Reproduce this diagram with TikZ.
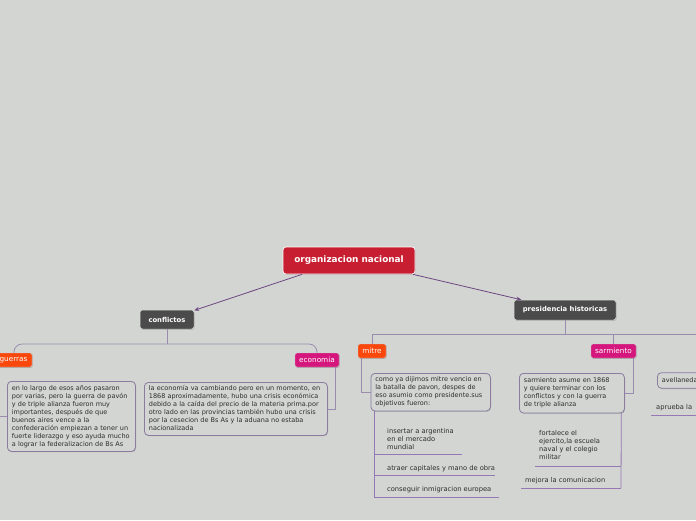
\documentclass[tikz,border=0pt]{standalone}
\usepackage{fontspec}
\setmainfont{DejaVu Sans}
\usetikzlibrary{shadows,arrows.meta}
\definecolor{bgc}{RGB}{211,213,210}
\definecolor{rootred}{RGB}{200,30,50}
\definecolor{darkbox}{RGB}{75,75,75}
\definecolor{orangebox}{RGB}{250,72,12}
\definecolor{magbox}{RGB}{213,22,125}
\definecolor{boxborder}{RGB}{140,125,160}
\definecolor{treeline}{RGB}{155,140,175}
\definecolor{arrowline}{RGB}{110,70,130}
\definecolor{subline}{RGB}{150,120,180}
\definecolor{txt}{RGB}{45,45,45}
\newcommand{\boxlines}[1]{\begin{tabular}{@{}l@{}}#1\end{tabular}}
\tikzset{
  shadowed/.style={drop shadow={shadow xshift=0.6pt,shadow yshift=-0.8pt,fill=black,opacity=0.18}},
  rootbox/.style={shadowed,rectangle,rounded corners=3pt,fill=rootred,draw=white,line width=0.7pt,
    text=white,font=\fontsize{8.9}{10}\selectfont\bfseries,minimum width=132,minimum height=27,inner sep=0},
  mainbox/.style={shadowed,rectangle,rounded corners=2.5pt,fill=darkbox,draw=white!75!gray,line width=0.5pt,
    text=white,font=\fontsize{6.8}{8}\selectfont\bfseries,inner sep=0},
  labelbox/.style={shadowed,rectangle,rounded corners=2pt,draw=white!60!gray,line width=0.4pt,
    text=white,font=\fontsize{7.3}{8}\selectfont,inner sep=0,minimum height=14},
  textbox/.style={shadowed,rectangle,rounded corners=4pt,fill=bgc,draw=boxborder,line width=0.8pt,
    text=txt,font=\fontsize{6.5}{8.0}\selectfont,align=left,inner xsep=4.5,inner ysep=0,anchor=north west},
  itemtext/.style={text=txt,font=\fontsize{6.7}{8.0}\selectfont,align=left,inner sep=0,anchor=north west},
  tree/.style={draw=treeline,line width=0.8pt},
  subl/.style={draw=subline,line width=0.8pt},
  arr/.style={draw=arrowline,line width=0.8pt,-{Stealth[length=5pt,width=4pt]}}
}
\begin{document}
\begin{tikzpicture}[x=1pt,y=-1pt]
\useasboundingbox (0,0) rectangle (696,520);
\clip (0,0) rectangle (696,520);
\fill[bgc] (0,0) rectangle (696,520);

% main nodes
\node[rootbox] (root) at (349,260.5) {organizacion nacional};
\node[mainbox,minimum width=54,minimum height=19] (conflictos) at (167,319.5) {conflictos};
\node[mainbox,minimum width=102,minimum height=20] (presidencia) at (565,310) {presidencia historicas};

% labels
\node[labelbox,fill=orangebox,minimum width=46] (guerras) at (9,360) {\hspace*{9pt}guerras};
\node[labelbox,fill=magbox,minimum width=44] (economia) at (317,360) {economia};
\node[labelbox,fill=orangebox,minimum width=28] (mitre) at (372,351) {mitre};
\node[labelbox,fill=magbox,minimum width=45] (sarmiento) at (613.5,351) {sarmiento};

% text boxes
\node[textbox,text width=119,minimum height=70] (guerrasbox) at (7,381) {\boxlines{en lo largo de esos años pasaron\\por varias, pero la guerra de pavón\\y de triple alianza fueron muy\\importantes, después de que\\buenos aires vence a la\\confederación empiezan a tener un\\fuerte liderazgo y eso ayuda mucho\\a lograr la federalizacion de Bs As}};
\node[textbox,text width=174,minimum height=53] (econbox) at (144,382) {\boxlines{la economía va cambiando pero en un momento, en\\1868 aproximadamente, hubo una crisis económica\\debido a la caída del precio de la materia prima.por\\otro lado en las provincias también hubo una crisis\\por la cesecion de Bs As y la aduana no estaba\\nacionalizada}};
\node[textbox,text width=110.5,minimum height=37.5] (mitrebox) at (370.5,373) {\boxlines{como ya dijimos mitre vencio en\\la batalla de pavon, despes de\\eso asumio como presidente.sus\\objetivos fueron:}};
\node[textbox,text width=96,minimum height=39.5] (sarmbox) at (519,373) {\boxlines{sarmiento asume en 1868\\y quiere terminar con los\\conflictos y con la guerra\\de triple alianza}};
\node[textbox,text width=52,minimum height=15.5] (avellaneda) at (657,372.3) {\boxlines{avellaneda}};

% arrows from root
\draw[arr] ([xshift=-47pt]root.south) -- (conflictos);
\draw[arr] ([xshift=64pt]root.south) -- (presidencia);

% conflictos tree
\coordinate (cj) at (167,344);
\draw[tree] (conflictos.south) -- (cj);
\draw[tree,rounded corners=8pt] ([xshift=5pt]guerras.north) |- (cj) -| (economia.north);
\draw[tree] (guerras.south west) |- (guerrasbox.west);
\draw[tree] ([xshift=-4pt]economia.south east) |- (econbox.east);

% presidencia tree
\coordinate (pj) at (565,334);
\coordinate (pr) at (700,334);
\draw[tree] (presidencia.south) -- (pj);
\draw[tree] (mitre.north) |- (pr);
\draw[tree] (sarmiento.north) -- (sarmiento.north |- pj);
\draw[tree] ([xshift=4pt]mitre.south west) |- (mitrebox.west);
\draw[tree] ([xshift=-3pt]sarmiento.south east) |- (sarmbox.east);

% mitre items
\coordinate (m1a) at (374,454); \coordinate (m1b) at (462,454);
\coordinate (m2a) at (374,475); \coordinate (m2b) at (495,475);
\coordinate (m3a) at (374,497); \coordinate (m3b) at (499,497);
\node[itemtext] (m1) at (387,428.5) {insertar a argentina\\en el mercado\\mundial};
\node[itemtext] (m2) at (387,465.5) {atraer capitales y mano de obra};
\node[itemtext] (m3) at (387,486.5) {conseguir inmigracion europea};
\draw[subl] ([xshift=3.5pt]mitrebox.south west) -- (m3a);
\draw[subl] (m1a) -- (m1b);
\draw[subl] (m2a) -- (m2b);
\draw[subl] (m3a) -- (m3b);

% sarmiento items
\coordinate (s1a) at (535,466); \coordinate (s1b) at (621,466);
\coordinate (s2a) at (521,488); \coordinate (s2b) at (621,488);
\node[itemtext] (s1) at (539,430.5) {fortalece el\\ejercito,la escuela\\naval y el colegio\\militar};
\node[itemtext] (s2) at (525,477.5) {mejora la comunicacion};
\draw[subl] ([xshift=-3.5pt]sarmbox.south east) -- (s2b);
\draw[subl] (s1a) -- (s1b);
\draw[subl] (s2a) -- (s2b);

% avellaneda item
\coordinate (a1a) at (651,415); \coordinate (a1b) at (700,415);
\node[itemtext] (a1) at (656,404.5) {aprueba la};
\draw[subl] (a1a) -- (a1b);
\end{tikzpicture}
\end{document}
